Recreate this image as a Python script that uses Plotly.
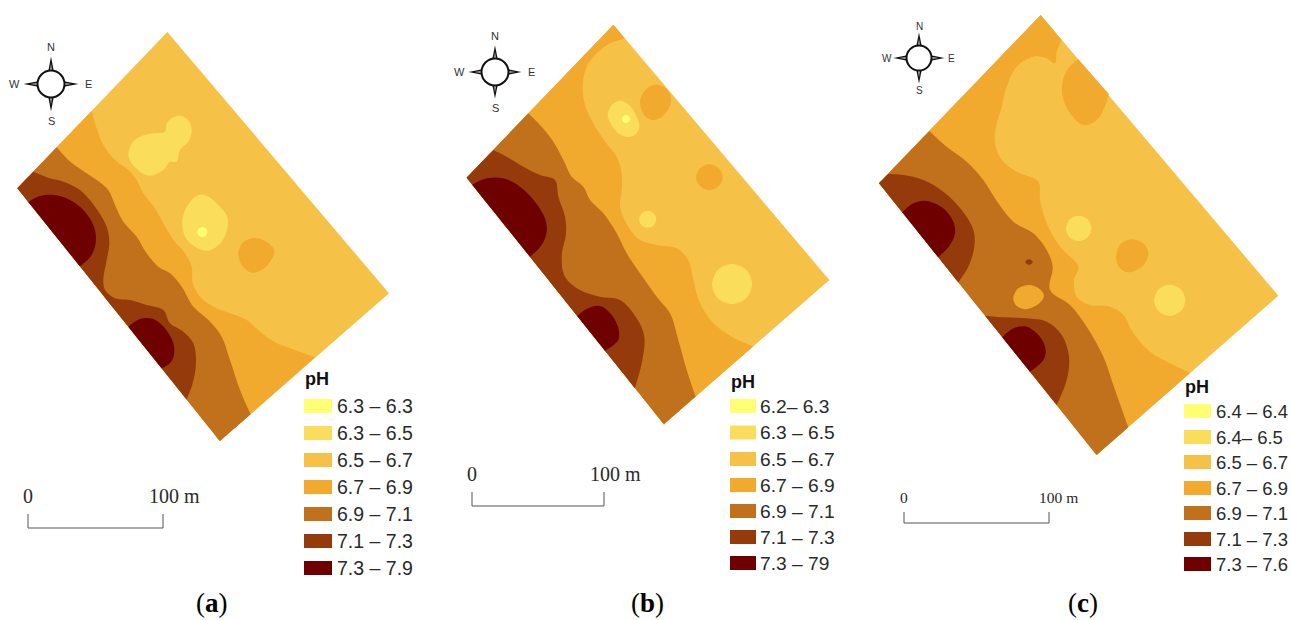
import plotly.graph_objects as go

# colours of the pH classes (light to dark)
C = ["#FFFF73", "#FBDD5C", "#F5C146", "#F1A92E", "#C1701C", "#953A0A", "#6E0000"]

# ---- panel (a), coordinates (3x crop, origin 0,20)
A_ORIGIN = (0, 20)
A_FIELD = [(502, 36), (1167, 820), (660, 1263), (52, 505)]
A_Z3 = [(275, 273), (290, 325), (310, 375), (345, 420), (385, 450), (410, 480), (430, 520), (465, 565), (490, 610), (520, 660), (555, 700), (575, 740), (578, 790), (600, 830), (640, 860), (690, 880), (740, 900), (780, 935), (830, 970), (885, 990), (945, 1012)]
A_Z3_C = [(660, 1263), (52, 505)]
A_Z4 = [(170, 382), (205, 420), (245, 450), (290, 480), (325, 510), (345, 555), (370, 605), (410, 650), (440, 700), (475, 740), (510, 760), (545, 800), (580, 860), (625, 900), (665, 950), (690, 1020), (720, 1110), (752, 1183)]
A_Z4_C = [(660, 1263), (52, 505)]
A_Z5 = [(100, 455), (150, 475), (190, 485), (240, 510), (285, 560), (320, 620), (328, 670), (320, 720), (310, 780), (315, 810), (345, 835), (390, 840), (440, 855), (490, 870), (510, 910), (550, 935), (580, 970), (588, 1030), (578, 1090), (560, 1138)]
A_Z5_C = [(52, 505)]
A_D1 = [(85, 546), (120, 528), (165, 525), (210, 540), (250, 570), (280, 615), (288, 660), (275, 705), (240, 739)]
A_D2 = [(385, 920), (420, 897), (460, 897), (495, 925), (520, 970), (522, 1005), (510, 1030), (485, 1045)]
A_L1 = [(385, 405), (395, 370), (420, 350), (460, 340), (495, 335), (500, 310), (520, 292), (545, 288), (568, 305), (575, 335), (565, 365), (540, 390), (530, 425), (510, 425), (490, 450), (450, 467), (420, 455), (395, 430)]
A_L2 = [(547, 600), (560, 560), (595, 525), (625, 530), (660, 560), (682, 590), (682, 625), (665, 665), (625, 692), (585, 680), (555, 650)]
A_Y1 = [(592, 636), (597, 625), (607, 621), (618, 625), (622, 636), (618, 647), (607, 651), (597, 647)]
A_O1 = [(715, 700), (725, 672), (755, 655), (790, 660), (815, 678), (823, 695), (810, 725), (785, 750), (755, 758), (725, 735)]

# ---- panel (b) (3x crop, origin 440,10)
B_ORIGIN = (440, 10)
B_FIELD = [(520, 44), (1168, 810), (672, 1243), (80, 503)]
B_Z3 = [(555, 85), (510, 100), (470, 130), (440, 170), (428, 225), (435, 285), (460, 340), (495, 395), (530, 440), (545, 490), (545, 540), (540, 590), (565, 650), (600, 690), (650, 705), (710, 715), (745, 750), (760, 810), (780, 880), (820, 940), (875, 980), (940, 1009)]
B_Z3_C = [(672, 1243), (80, 503), (520, 44)]
B_Z4 = [(265, 310), (300, 345), (340, 395), (370, 450), (395, 500), (430, 530), (450, 570), (490, 610), (530, 670), (560, 730), (600, 790), (650, 860), (690, 910), (715, 990), (740, 1080), (767, 1160)]
B_Z4_C = [(672, 1243), (80, 503)]
B_Z5 = [(160, 420), (200, 440), (250, 470), (300, 495), (345, 510), (355, 560), (375, 620), (378, 670), (365, 740), (375, 800), (420, 840), (480, 860), (540, 870), (590, 925), (613, 980), (605, 1060), (585, 1134)]
B_Z5_C = [(80, 503)]
B_D1 = [(97, 524), (140, 505), (190, 505), (240, 530), (285, 575), (315, 625), (320, 665), (305, 705), (270, 740)]
B_D2 = [(412, 918), (440, 897), (480, 888), (515, 915), (535, 955), (535, 990), (495, 1022)]
B_O1 = [(600, 275), (612, 245), (640, 225), (670, 230), (692, 258), (688, 292), (665, 320), (640, 330), (615, 318)]
B_O2 = [(768, 502), (780, 475), (808, 463), (836, 475), (848, 502), (836, 528), (808, 541), (780, 528)]
B_L1 = [(503, 315), (515, 285), (540, 272), (568, 285), (590, 320), (598, 350), (585, 375), (555, 380), (525, 360)]
B_Y1 = [(546, 327), (550, 318), (558, 315), (566, 318), (570, 327), (566, 336), (558, 339), (550, 336)]
B_L2 = [(597, 628), (605, 610), (623, 602), (641, 610), (649, 628), (641, 646), (623, 654), (605, 646)]
B_L3 = [(816, 822), (833, 780), (876, 762), (919, 780), (936, 822), (919, 864), (876, 882), (833, 864)]

# ---- panel (c) (3x crop, origin 870,10)
C_ORIGIN = (870, 10)
C_FIELD = [(512, 15), (1225, 857), (680, 1335), (27, 520)]
C_Z3 = [(575, 89), (560, 125), (555, 160), (530, 145), (490, 140), (440, 170), (410, 230), (395, 290), (378, 350), (375, 400), (395, 450), (440, 485), (505, 515), (510, 570), (530, 640), (570, 710), (625, 770), (612, 810), (620, 860), (660, 885), (720, 890), (760, 915), (790, 970), (840, 1025), (900, 1060), (960, 1089)]
C_Z3_C = [(680, 1335), (27, 520), (512, 15)]
C_O1 = [(625, 148), (595, 175), (578, 215), (578, 260), (600, 310), (640, 345), (680, 330), (700, 300), (717, 253)]
C_O2 = [(738, 740), (750, 705), (785, 688), (825, 705), (835, 735), (815, 770), (775, 787), (750, 775)]
C_L1 = [(588, 655), (599, 628), (626, 617), (653, 628), (664, 655), (653, 682), (626, 693), (599, 682)]
C_L2 = [(852, 871), (866, 838), (899, 824), (932, 838), (946, 871), (932, 904), (899, 918), (866, 904)]
C_Z4 = [(178, 363), (230, 410), (290, 455), (340, 510), (385, 580), (430, 635), (490, 670), (530, 720), (548, 770), (540, 840), (600, 885), (650, 950), (700, 1040), (735, 1140), (775, 1252)]
C_Z4_C = [(680, 1335), (27, 520)]
C_O3 = [(430, 860), (445, 835), (480, 825), (510, 838), (522, 858), (505, 882), (465, 898), (437, 885)]
C_DOT = [(466, 756), (470, 750), (477, 748), (484, 750), (488, 756), (484, 762), (477, 764), (470, 762)]
C_Z5A = [(55, 492), (100, 495), (160, 510), (220, 545), (275, 600), (310, 660), (313, 710), (295, 770), (265, 817)]
C_Z5A_C = [(27, 520)]
C_Z5B = [(345, 917), (400, 922), (470, 925), (530, 935), (575, 975), (597, 1040), (590, 1110), (560, 1185)]
C_D1 = [(97, 607), (130, 580), (170, 573), (220, 595), (250, 635), (255, 670), (240, 705), (205, 742)]
C_D2 = [(397, 982), (430, 955), (470, 950), (510, 980), (527, 1020), (520, 1050), (480, 1085)]

# ---- legends
LEG_A = ["6.3 – 6.3", "6.3 – 6.5", "6.5 – 6.7", "6.7 – 6.9", "6.9 – 7.1", "7.1 – 7.3", "7.3 – 7.9"]
LEG_B = ["6.2– 6.3", "6.3 – 6.5", "6.5 – 6.7", "6.7 – 6.9", "6.9 – 7.1", "7.1 – 7.3", "7.3 – 79"]
LEG_C = ["6.4 – 6.4", "6.4– 6.5", "6.5 – 6.7", "6.7 – 6.9", "6.9 – 7.1", "7.1 – 7.3", "7.3 – 7.6"]
LEG_A_Y = [406, 433, 460, 487, 514, 541, 568]
LEG_B_Y = [406, 432.5, 459, 485, 511, 537, 563]
LEG_C_Y = [411, 437, 462, 488, 513, 539, 564]

fig = go.Figure()


def to_px(pts, org):
    return [org[0] + p[0] / 3 for p in pts], [org[1] + p[1] / 3 for p in pts]


def add(pts, org, color, shape="spline"):
    x, y = to_px(pts, org)
    line = dict(width=0, shape=shape, simplify=False)
    if shape == "spline":
        line["smoothing"] = 1
    fig.add_trace(go.Scatter(x=x, y=y, mode="lines", fill="toself", fillcolor=color,
                             line=line, hoverinfo="skip", showlegend=False))


def step(a, b, d=2.0):
    dx, dy = b[0] - a[0], b[1] - a[1]
    n = (dx * dx + dy * dy) ** 0.5 or 1
    return (a[0] + dx / n * d, a[1] + dy / n * d)


def zone(curve, corners, org, color):
    # a smooth curve that is closed along the field's straight edges: each
    # junction gets tight neighbours so that the spline keeps the corner sharp
    ring = list(curve) + list(corners)
    n = len(curve)
    out = []
    for i, p in enumerate(ring):
        sharp = i == 0 or i >= n - 1
        if sharp:
            out += [step(p, ring[i - 1]), p, step(p, ring[(i + 1) % len(ring)])]
        else:
            out.append(p)
    add(out + [out[0]], org, color)


def blob(pts, org, color):
    add(list(pts) + [pts[0], pts[1]], org, color)


def chord(pts, org, color):
    add(pts, org, color)


# ---------- panel a
add(A_FIELD + A_FIELD[:1], A_ORIGIN, C[2], "linear")
zone(A_Z3, A_Z3_C, A_ORIGIN, C[3])
zone(A_Z4, A_Z4_C, A_ORIGIN, C[4])
zone(A_Z5, A_Z5_C, A_ORIGIN, C[5])
chord(A_D1, A_ORIGIN, C[6])
chord(A_D2, A_ORIGIN, C[6])
blob(A_L1, A_ORIGIN, C[1])
blob(A_L2, A_ORIGIN, C[1])
blob(A_Y1, A_ORIGIN, C[0])
blob(A_O1, A_ORIGIN, C[3])
# ---------- panel b
add(B_FIELD + B_FIELD[:1], B_ORIGIN, C[2], "linear")
zone(B_Z3, B_Z3_C, B_ORIGIN, C[3])
zone(B_Z4, B_Z4_C, B_ORIGIN, C[4])
zone(B_Z5, B_Z5_C, B_ORIGIN, C[5])
chord(B_D1, B_ORIGIN, C[6])
chord(B_D2, B_ORIGIN, C[6])
blob(B_O1, B_ORIGIN, C[3])
blob(B_O2, B_ORIGIN, C[3])
blob(B_L1, B_ORIGIN, C[1])
blob(B_Y1, B_ORIGIN, C[0])
blob(B_L2, B_ORIGIN, C[1])
blob(B_L3, B_ORIGIN, C[1])
# ---------- panel c
add(C_FIELD + C_FIELD[:1], C_ORIGIN, C[2], "linear")
zone(C_Z3, C_Z3_C, C_ORIGIN, C[3])
chord(C_O1, C_ORIGIN, C[3])
blob(C_O2, C_ORIGIN, C[3])
blob(C_L1, C_ORIGIN, C[1])
blob(C_L2, C_ORIGIN, C[1])
zone(C_Z4, C_Z4_C, C_ORIGIN, C[4])
blob(C_O3, C_ORIGIN, C[3])
blob(C_DOT, C_ORIGIN, C[5])
zone(C_Z5A, C_Z5A_C, C_ORIGIN, C[5])
chord(C_Z5B, C_ORIGIN, C[5])
chord(C_D1, C_ORIGIN, C[6])
chord(C_D2, C_ORIGIN, C[6])

# ---------- compass roses: centre, radius, spike reach, label distance, font size
COMPASS = [(51, 84, 13.5, 14, 37, 11), (495, 72, 13.5, 13, 36, 11), (919, 58, 12.5, 13, 32, 10)]
INK = "#111111"
for cx, cy, r, reach, lab, fs in COMPASS:
    for dx, dy in [(0, -1), (0, 1), (1, 0), (-1, 0)]:
        px, py = -dy, dx
        o = r - 2
        w = 3.0
        xs = [cx + dx * o + px * w, cx + dx * (r + reach), cx + dx * o - px * w]
        ys = [cy + dy * o + py * w, cy + dy * (r + reach), cy + dy * o - py * w]
        fig.add_trace(go.Scatter(x=xs, y=ys, mode="lines", fill="toself", fillcolor=INK,
                                 line=dict(width=0), hoverinfo="skip", showlegend=False))
        xs = [cx + dx * o + px * 1.2, cx + dx * (r + 7), cx + dx * o - px * 1.2]
        ys = [cy + dy * o + py * 1.2, cy + dy * (r + 7), cy + dy * o - py * 1.2]
        fig.add_trace(go.Scatter(x=xs, y=ys, mode="lines", fill="toself", fillcolor="#cccccc",
                                 line=dict(width=0), hoverinfo="skip", showlegend=False))
    fig.add_trace(go.Scatter(x=[cx], y=[cy], mode="markers", hoverinfo="skip", showlegend=False,
                             marker=dict(size=2 * r, color="white", line=dict(color=INK, width=2))))
    for t, dx, dy in [("N", 0, -1), ("S", 0, 1), ("E", 1, 0), ("W", -1, 0)]:
        fig.add_annotation(x=cx + dx * lab, y=cy + dy * lab, text=t, showarrow=False,
                           font=dict(family="Liberation Sans", size=fs, color="#333333"))

shapes = []


def T(x, y, s, size, fam="Liberation Sans", col="#2a2a2a", anchor="left", vert="middle"):
    fig.add_annotation(x=x, y=y, text=s, showarrow=False, xanchor=anchor, yanchor=vert,
                       font=dict(family=fam, size=size, color=col))


# ---------- legends
LEGENDS = [(LEG_A, LEG_A_Y, 304, 332, 335, 378.5, 19.5), (LEG_B, LEG_B_Y, 730, 756, 758, 382, 19.2), (LEG_C, LEG_C_Y, 1184, 1211, 1214, 387, 18.5)]
for labels, ys, x0, x1, tx, ty, fs in LEGENDS:
    T(x0 - 1, ty, "<b>pH</b>", 18, col="#111111")
    for lab, y, col in zip(labels, ys, C):
        shapes.append(dict(type="rect", x0=x0, x1=x1, y0=y - 7, y1=y + 7, fillcolor=col, line=dict(width=0), layer="above"))
        T(tx, y, lab, fs)

# ---------- scale bars
SCALES = [(28, 163, 514, 528, 496, 174, 20), (472, 604, 492, 506, 474, 615, 20), (904, 1049, 512, 523, 497, 1058, 15.5)]
for x0, x1, y0, y1, ly, mx, fs in SCALES:
    for a in [dict(x0=x0, x1=x0, y0=y0, y1=y1), dict(x0=x1, x1=x1, y0=y0, y1=y1), dict(x0=x0, x1=x1, y0=y1, y1=y1)]:
        shapes.append(dict(type="line", line=dict(color="#555555", width=1), **a))
    T(x0, ly, "0", fs, "Liberation Serif", anchor="center")
    T(mx, ly, "100 m", fs, "Liberation Serif", anchor="center")

# ---------- captions
CAPTIONS = [(212, "(<b>a</b>)"), (647, "(<b>b</b>)"), (1083, "(<b>c</b>)")]
for x, s in CAPTIONS:
    T(x, 619.5, s, 27, "Liberation Serif", "#000000", "center", "bottom")

fig.update_layout(width=1291, height=620, margin=dict(l=0, r=0, t=0, b=0), paper_bgcolor="white",
                  plot_bgcolor="white", shapes=shapes, showlegend=False,
                  xaxis=dict(range=[0, 1291], visible=False, fixedrange=True),
                  yaxis=dict(range=[620, 0], visible=False, fixedrange=True))
fig.write_html("out.html", config=dict(displayModeBar=False),
               post_script="document.body.style.margin='0';document.body.style.overflow='hidden';")
